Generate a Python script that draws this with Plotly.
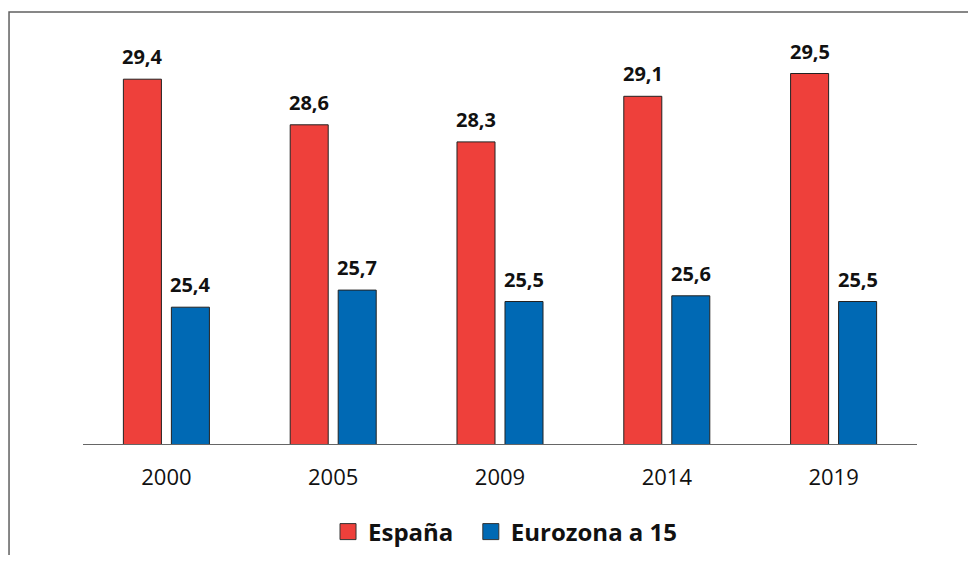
import plotly.graph_objects as go

years = ["2000", "2005", "2009", "2014", "2019"]
espana = [29.4, 28.6, 28.3, 29.1, 29.5]
eurozona = [25.4, 25.7, 25.5, 25.6, 25.5]
series_names = ["España", "Eurozona a 15"]
colors = ["#EE403B", "#0069B4"]

def fmt(v):
    return f"{v:.1f}".replace(".", ",")

fig = go.Figure()
for name, vals, col in zip(series_names, [espana, eurozona], colors):
    fig.add_trace(go.Bar(
        x=years, y=vals, name=name, showlegend=False,
        marker=dict(color=col, line=dict(color="#222222", width=1)),
    ))
for k, (name, col) in enumerate(zip(series_names, colors)):
    # legend proxies with larger square symbols
    label = name + ("\u00a0\u00a0" if k == 0 else "")
    fig.add_trace(go.Scatter(
        x=[years[0]], y=[None], mode="markers", name=label,
        marker=dict(symbol="square", size=16, color=col,
                    line=dict(color="#333333", width=1)),
    ))

annotations = []
for vals, shift in [(espana, -24), (eurozona, 24)]:
    for i, v in enumerate(vals):
        annotations.append(dict(
            x=i, y=v, xref="x", yref="y", text=fmt(v), showarrow=False,
            xshift=shift, yshift=7, yanchor="bottom",
            font=dict(family="Open Sans", size=20, color="#111111", weight="bold"),
        ))

fig.update_layout(
    width=960, height=547,
    margin=dict(l=75, r=51, t=37, b=111, autoexpand=False),
    paper_bgcolor="white", plot_bgcolor="white",
    barmode="group", bargap=0.4245, bargroupgap=0.208,
    annotations=annotations,
    font=dict(family="Open Sans", color="#111111"),
    legend=dict(orientation="h", x=0.2938, xanchor="left",
                yref="container", y=1 - 524 / 547, yanchor="middle",
                font=dict(family="Open Sans", size=24, color="#111111", weight="bold"),
                itemwidth=30, traceorder="normal"),
    shapes=[dict(type="rect", xref="paper", yref="paper",
                 x0=-0.0887, x1=1.3, y0=-0.6, y1=1.0827,
                 line=dict(color="#606060", width=1.5), layer="below")],
)
fig.update_xaxes(type="category", categoryorder="array", categoryarray=years,
                 range=[-0.5, len(years) - 0.5],
                 showline=True, linecolor="#666666", linewidth=1.2,
                 ticks="", showgrid=False,
                 tickfont=dict(family="Open Sans", size=22, color="#111111"),
                 ticklabelstandoff=13)
fig.update_yaxes(range=[23, 30], visible=False, showgrid=False)

fig.write_html("out.html")
